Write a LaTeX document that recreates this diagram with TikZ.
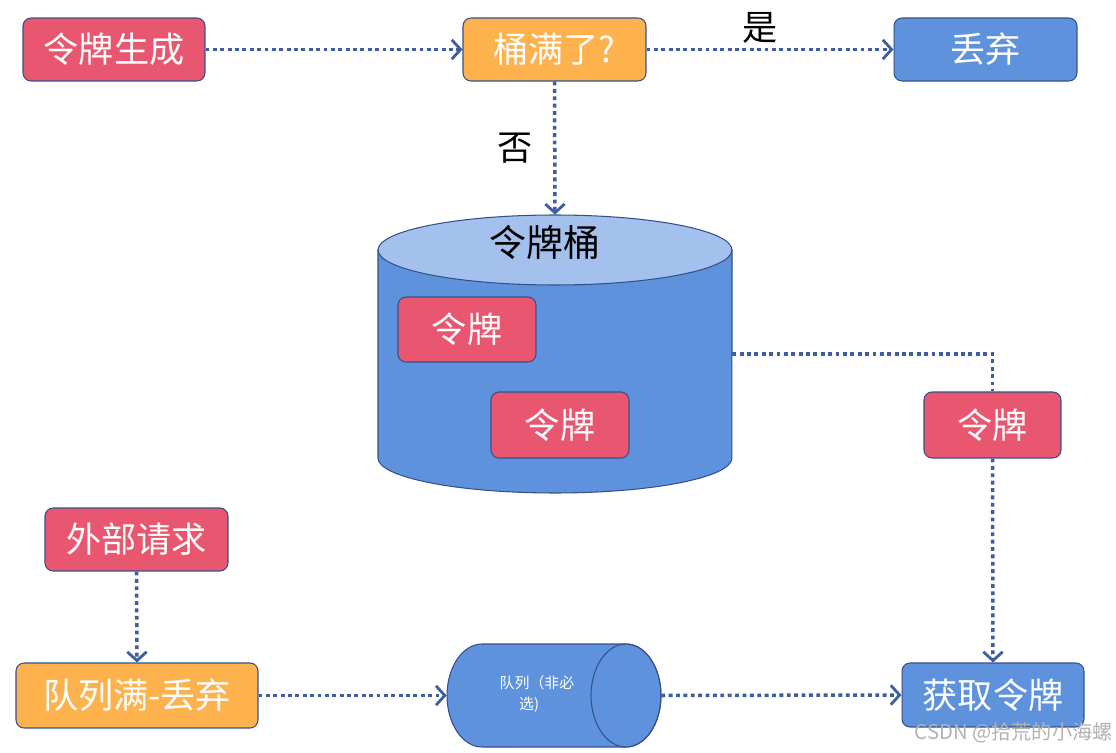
\documentclass[tikz,border=0pt]{standalone}
\usepackage{fontspec}
\setmainfont{Noto Sans CJK SC}
\usetikzlibrary{arrows.meta}
\definecolor{cred}{HTML}{E8576F}
\definecolor{corange}{HTML}{FDB24E}
\definecolor{cblue}{HTML}{5F92DD}
\definecolor{ctop}{HTML}{A4C1EE}
\definecolor{cborder}{HTML}{34508C}
\definecolor{carrow}{HTML}{3D5F9F}
\begin{document}
\begin{tikzpicture}[x=0.02cm,y=-0.02cm,
  box/.style={draw=cborder, line width=0.6pt, rounded corners=0.16cm, text=white,
    font=\fontsize{20}{23}\selectfont, inner sep=0pt, minimum height=1.26cm},
  redbox/.style={box, fill=cred},
  orangebox/.style={box, fill=corange},
  bluebox/.style={box, fill=cblue},
  flow/.style={draw=carrow, line width=2pt, dash pattern=on 2.2pt off 2pt,
    -{Straight Barb[length=5pt,width=11pt,line width=1.6pt]}},
  link/.style={draw=carrow, line width=2pt, dash pattern=on 2.2pt off 2pt},
  lbl/.style={font=\fontsize{20}{23}\selectfont, text=black, inner sep=0pt}
]
\useasboundingbox (0,0) rectangle (1116,753);
\fill[white] (0,0) rectangle (1116,753);

% big cylinder (token bucket)
\fill[cblue, draw=cborder, line width=0.6pt] (378,250) -- (378,458)
  arc[start angle=180, end angle=360, x radius=3.54cm, y radius=0.7cm]
  -- (732,250) -- cycle;
\filldraw[fill=ctop, draw=cborder, line width=0.6pt] (555,250) ellipse [x radius=3.54cm, y radius=0.7cm];
\node[inner sep=0pt, minimum width=7.08cm, minimum height=5.56cm] (bucket) at (555,354) {};
\node[lbl, font=\fontsize{21}{24}\selectfont] (bucketlbl) at (545,242) {令牌桶};

% queue cylinder (horizontal)
\fill[cblue, draw=cborder, line width=0.6pt] (482,644) -- (626,644)
  arc[start angle=90, end angle=-90, x radius=0.7cm, y radius=1.03cm]
  -- (482,747)
  arc[start angle=-90, end angle=-270, x radius=0.7cm, y radius=1.03cm] -- cycle;
\draw[cborder, line width=0.6pt] (626,695.5) ellipse [x radius=0.7cm, y radius=1.03cm];
\node[inner sep=0pt, minimum width=4.28cm, minimum height=2.06cm] (queue) at (554,695.5) {};
\node[text=white, font=\fontsize{8.5}{12}\selectfont, align=left, inner sep=0pt] (queuelbl) at (537,694) {队列（非必\\\hspace*{1.3em}选)};

% boxes
\node[redbox, minimum width=3.64cm] (gen) at (114,49.5) {令牌生成};
\node[orangebox, minimum width=3.66cm] (full) at (554.5,49.5) {桶满了?};
\node[bluebox, minimum width=3.66cm] (drop) at (985.5,49.5) {丢弃};
\node[redbox, minimum width=2.76cm, minimum height=1.3cm] (tok1) at (467,329.5) {令牌};
\node[redbox, minimum width=2.76cm, minimum height=1.32cm] (tok2) at (560,425) {令牌};
\node[redbox, minimum width=2.74cm, minimum height=1.32cm] (tok3) at (992.5,425) {令牌};
\node[bluebox, minimum width=3.64cm, minimum height=1.28cm] (get) at (993,695) {获取令牌};
\node[redbox, minimum width=3.66cm] (req) at (136.5,539.5) {外部请求};
\node[orangebox, minimum width=4.84cm, minimum height=1.3cm] (qfull) at (137,695.5) {队列满-丢弃};

% labels
\node[lbl] (yes) at (760,28) {是};
\node[lbl] (no) at (515,148) {否};

% connectors
\draw[flow] (gen.east) -- (full.west);
\draw[flow] (full.east) -- (drop.west);
\draw[flow] (full.south) -- (bucket.north);
\draw[link] (bucket.east) -| (tok3.north);
\draw[flow] (tok3.south) -- (get.north);
\draw[flow] (req.south) -- (qfull.north);
\draw[flow] (qfull.east) -- (queue.west);
\draw[flow] (queue.east) -- (get.west);

% watermark
\node[anchor=east, text=black!30, font=\fontsize{11.5}{13}\selectfont, inner sep=0pt] (wm) at (1113,733) {CSDN @拾荒的小海螺};
\end{tikzpicture}
\end{document}
